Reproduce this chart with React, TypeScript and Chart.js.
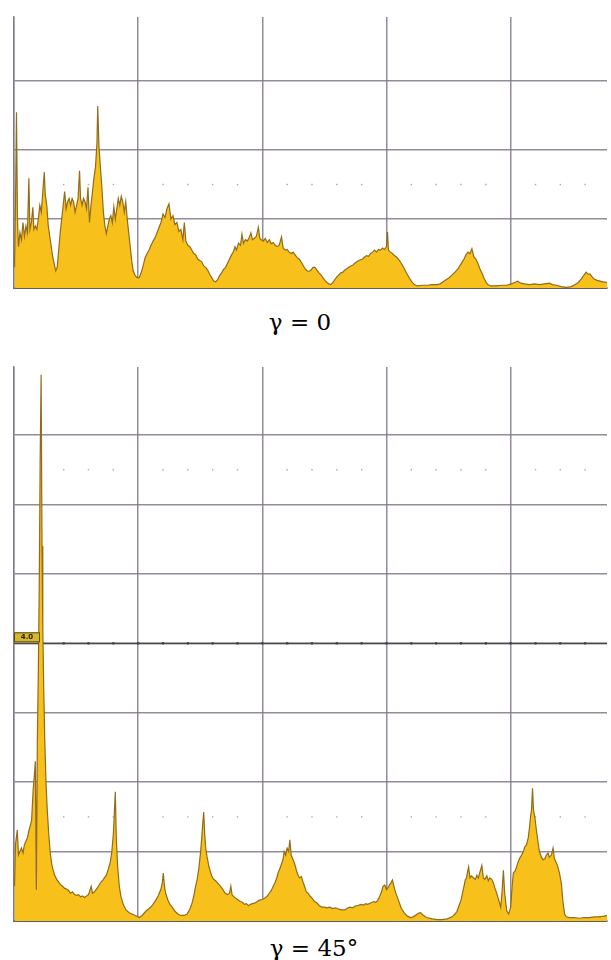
import React, { useEffect, useRef } from "react";
import { Chart, registerables } from "chart.js";

Chart.register(...registerables);

// ---------- data (x: frequency units, grid every 125; y: amplitude divisions) ----------
const TOP_X = [0.5,1.5,2.5,3.5,4.5,6,7.5,9,10.5,12,13.5,15,16,17.5,19,20,21.5,23,24.5,26,27.5,29,30.5,31.5,33,34.5,36,37.5,39,40.5,42,43.5,45,46.5,48,49.5,51,52.5,54,55.5,57,58.5,60,61.5,63,64.5,66,67,68.5,70,71.5,73,74.5,76,77.5,79,80.5,82,83.5,84.3,85.5,87,88.5,90,91.5,93,94.5,96,97.5,99,100.5,102,103.5,105,106.5,108,109.5,111,112.5,114,115.5,117,118.5,120,122,124,126,128,130,132,134,136,138,140,142,144,146,148,150,152,154,156,158,160,162,164,166,168,170,171.5,173,175,177,179,181,183,185,187,189,191,193,195,197,199,201,203,205,207,209,211,213,215,217,219,221,222.5,224,226,228,229.5,231,233,235,237,238.5,240,242,244,246,247.5,249,251,253,255,257,259,261,263,265,267,269.3,271,273,275,277,279,281,283,285,287,289,291,293,295,297,299,301,303,305,307,309,311,313,315,317,319,321,323,325,327,329,331,333,335,337,339,341,343,345,347,349,351,353,355,357,359,361,363,365,367,369,371,373,375,376,377,379,381,383,385,387,389,391,393,395,397,399,401,403,406,411,416,421,426,429,432,435,438,441,444,447,450,453,455,457,459,461,463,465,467,469,471,473,475,477,480,486,491,496,501,504,507,510,514,519,524,529,534,539,542,546,551,556,561,565,568,571,574,576,578,580,582,584,587,590,593,597];
const TOP_Y = [0.3,1.2,2.55,1.0,0.6,0.8,0.7,0.95,0.75,0.9,0.8,1.59,0.85,0.95,1.17,0.85,0.9,0.85,1.0,1.2,1.1,1.4,1.68,1.35,1.2,0.9,0.75,0.6,0.45,0.35,0.25,0.3,0.55,0.8,1.0,1.2,1.4,1.15,1.25,1.3,1.2,1.3,1.25,1.1,1.2,1.3,1.7,1.3,1.2,1.3,1.25,1.15,1.46,0.95,1.2,1.4,1.6,1.75,2.1,2.64,2.06,1.75,1.45,1.1,0.9,0.79,0.9,1.0,1.05,0.95,1.18,1.0,1.15,1.3,1.2,1.33,1.25,1.1,1.25,1.0,0.8,0.6,0.4,0.25,0.18,0.15,0.15,0.22,0.32,0.44,0.5,0.55,0.62,0.68,0.73,0.8,0.88,0.95,1.07,1.02,1.15,1.22,1.0,1.05,0.92,0.95,0.82,0.85,0.7,0.95,0.68,0.62,0.6,0.55,0.5,0.48,0.42,0.4,0.38,0.32,0.3,0.26,0.2,0.15,0.1,0.09,0.12,0.18,0.22,0.27,0.3,0.36,0.42,0.48,0.53,0.6,0.55,0.65,0.62,0.78,0.65,0.7,0.68,0.74,0.8,0.7,0.72,0.75,0.88,0.72,0.7,0.68,0.72,0.66,0.7,0.64,0.66,0.62,0.6,0.62,0.74,0.58,0.55,0.56,0.52,0.5,0.52,0.48,0.44,0.42,0.38,0.33,0.28,0.25,0.24,0.26,0.3,0.3,0.26,0.22,0.19,0.15,0.11,0.08,0.06,0.05,0.08,0.12,0.16,0.19,0.22,0.23,0.26,0.28,0.3,0.32,0.33,0.36,0.38,0.4,0.41,0.42,0.45,0.47,0.46,0.5,0.52,0.55,0.52,0.56,0.55,0.58,0.56,0.6,0.81,0.55,0.52,0.5,0.47,0.45,0.42,0.38,0.33,0.28,0.22,0.17,0.12,0.08,0.05,0.03,0.04,0.04,0.05,0.05,0.06,0.09,0.12,0.15,0.19,0.23,0.28,0.35,0.42,0.48,0.52,0.5,0.57,0.45,0.42,0.36,0.28,0.22,0.15,0.09,0.05,0.03,0.03,0.04,0.04,0.06,0.08,0.1,0.07,0.06,0.05,0.06,0.05,0.06,0.07,0.05,0.04,0.02,0.01,0.02,0.05,0.08,0.13,0.19,0.23,0.2,0.2,0.16,0.13,0.11,0.1,0.09,0.08];

const BOT_X = [0.5,1.5,3.3,4.5,6,7.5,9,10.5,12,13.5,15,16.5,17.7,19.3,20.5,21.5,22.5,23.5,24.5,25.5,26.3,27.3,28.2,29,30,31,32.2,33.5,35,36.5,38,39.5,41,43,45,47,49,51,53,55,57,59,61,63,65,67,69,71,73,75,77.7,79,81,83,85,87,89,91,93,95,97,98.5,100,101,102,103,104.3,106,107.7,110,112.7,116,119,122,126,129,132.7,136,139,142.7,145,147.7,149.3,150.3,151.5,152.7,155,157,159.3,162,165,167.7,171,174.3,177,179.3,181,182.5,184.3,186,187.7,189,190,191,192,193,194.3,196,197.5,199.3,201,203,206,208,210,212.7,215,217,218.3,219.5,222,224,226,228,230,232,234,236,238,240,242.7,245,247,250,252.7,255,257,259,261,262.7,264.5,266,267.5,269.3,271,272,273.5,275,276.5,277.7,279,280.5,282.7,284.5,286,287.5,289.3,291,292.5,294.3,296,298,300,302.7,305,307.5,310,312.7,315,318,321,324,327,330,332.7,335,338,341,344,346,349,352,354,356,359,362,364,366,368,370,371.5,373.3,375,376.5,378,379.5,381,382.5,384,386,388,390,392.7,396,399.3,402,405,407,409.3,411.5,414,416,421,426,431,436,441,444,446,448,450,451.5,453,454.3,455.5,456.5,457.7,459,460.5,462.7,464.5,466,467.5,469,471,472.5,474,476,477.5,479,481,482.5,484,486,488,490,491.5,492.7,494,496,498,500,501.5,502.7,504.5,506,507.5,509.3,511,512.7,514.3,516,517.7,519,520,521,522,523,524.3,526,527.7,529,531,532.7,534.5,536,537.7,539,541,542.7,544,546,547.5,549,551,552.5,554.3,556,559.3,564,569,574,579,584,589,594,597];
const BOT_Y = [0.5,1.1,1.31,0.95,1.0,1.05,0.98,1.1,1.15,1.2,1.3,1.38,1.45,1.89,2.1,2.3,0.45,2.6,3.6,5.0,6.6,7.87,5.4,4.2,3.3,2.6,2.0,1.6,1.25,0.98,0.82,0.73,0.66,0.6,0.56,0.52,0.5,0.47,0.46,0.44,0.4,0.42,0.38,0.37,0.38,0.35,0.36,0.34,0.36,0.38,0.5,0.4,0.42,0.46,0.5,0.55,0.58,0.62,0.66,0.75,0.85,1.0,1.25,1.55,1.86,1.2,0.8,0.5,0.35,0.24,0.16,0.12,0.1,0.08,0.05,0.08,0.14,0.18,0.22,0.3,0.36,0.45,0.55,0.69,0.5,0.4,0.3,0.24,0.2,0.14,0.1,0.08,0.08,0.1,0.17,0.26,0.36,0.48,0.59,0.75,0.97,1.2,1.4,1.57,1.25,1.05,0.93,0.8,0.72,0.64,0.6,0.58,0.53,0.5,0.46,0.4,0.38,0.4,0.5,0.38,0.34,0.32,0.3,0.28,0.27,0.24,0.25,0.22,0.24,0.25,0.26,0.28,0.3,0.31,0.33,0.36,0.4,0.44,0.5,0.55,0.62,0.7,0.75,0.82,0.9,1.0,0.95,1.05,1.0,1.17,0.95,0.9,0.82,0.72,0.66,0.62,0.64,0.56,0.5,0.42,0.4,0.36,0.33,0.28,0.26,0.22,0.2,0.2,0.19,0.2,0.18,0.19,0.17,0.16,0.16,0.18,0.2,0.19,0.22,0.22,0.24,0.23,0.25,0.24,0.26,0.28,0.27,0.29,0.35,0.42,0.5,0.52,0.45,0.48,0.52,0.55,0.59,0.5,0.42,0.34,0.26,0.18,0.12,0.07,0.05,0.06,0.09,0.11,0.12,0.09,0.06,0.05,0.03,0.02,0.02,0.03,0.06,0.1,0.14,0.22,0.3,0.4,0.5,0.59,0.62,0.7,0.78,0.62,0.65,0.62,0.6,0.66,0.62,0.7,0.8,0.62,0.6,0.65,0.58,0.62,0.6,0.55,0.48,0.4,0.3,0.2,0.45,0.73,0.4,0.15,0.1,0.2,0.5,0.69,0.72,0.78,0.85,0.91,0.95,1.0,1.07,1.1,1.2,1.35,1.5,1.6,1.91,1.6,1.5,1.3,1.12,1.0,0.92,0.88,0.9,0.95,0.98,0.92,0.95,1.05,0.9,0.84,0.78,0.7,0.55,0.3,0.1,0.06,0.05,0.05,0.04,0.05,0.05,0.06,0.06,0.07,0.08];

// faint dotted reference rows and the marker row
const DOT_X = [50,75,100,150,175,200,225,275,300,325,350,400,425,450,475,525,550,575];
const MARKER_DOT_X = [25,50,75,100,125,150,175,200,225,250,275,300,325,350,375,400,425,450,475,500,525,550,575];
const TOP_DOT_LEVELS = [1.5];
const BOT_DOT_LEVELS = [6.5, 1.5];
const MARKER_LEVEL = 4;
const MARKER_TEXT = "4.0";

const X_MAX = 597;
const X_STEP = 125;
const TOP_Y_MAX = 3.93;
const BOT_Y_MAX = 7.98;

const CAPTION_TOP = "γ = 0";
const CAPTION_BOT = "γ = 45°";

const FILL = "#F7C01A";
const EDGE = "rgba(140,102,22,0.95)";
const GRID = "rgba(128,120,134,0.85)";

function pts(xs: number[], ys: number[]) {
  return xs.map((x, i) => ({ x, y: ys[i] }));
}

function dotRows(levels: number[]) {
  const out: { x: number; y: number }[] = [];
  levels.forEach((lv) => DOT_X.forEach((x) => out.push({ x, y: lv })));
  return out;
}

function makeOptions(yMax: number, pad: any) {
  return {
    animation: false as const,
    responsive: false,
    maintainAspectRatio: false,
    layout: { padding: pad },
    plugins: { legend: { display: false }, tooltip: { enabled: false }, title: { display: false } },
    scales: {
      x: {
        type: "linear" as const,
        min: 0,
        max: X_MAX,
        ticks: { display: false, stepSize: X_STEP, includeBounds: false },
        grid: { color: GRID, lineWidth: 1.5, drawTicks: false },
        border: { display: true, color: "rgba(90,88,92,0.95)", width: 2 },
      },
      y: {
        type: "linear" as const,
        min: 0,
        max: yMax,
        ticks: { display: false, stepSize: 1, includeBounds: false },
        grid: { color: GRID, lineWidth: 1.5, drawTicks: false },
        border: { display: true, color: GRID, width: 1.5 },
      },
    },
  };
}

function spectrumDataset(xs: number[], ys: number[]) {
  return {
    type: "line" as const,
    data: pts(xs, ys),
    borderColor: EDGE,
    borderWidth: 1.2,
    backgroundColor: FILL,
    fill: "origin",
    pointRadius: 0,
    tension: 0,
  };
}

function dotsDataset(levels: number[]) {
  return {
    type: "scatter" as const,
    data: dotRows(levels),
    pointStyle: "rect",
    pointRadius: 1,
    backgroundColor: "rgba(150,150,150,0.8)",
    borderWidth: 0,
  };
}

const markerLabel = {
  id: "markerLabel",
  afterDatasetsDraw(chart: any) {
    const ctx = chart.ctx;
    const y = chart.scales.y.getPixelForValue(MARKER_LEVEL);
    const x = chart.chartArea.left;
    ctx.save();
    ctx.fillStyle = "#D8B62C";
    ctx.fillRect(x, y - 11, 26, 10);
    ctx.strokeStyle = "#5a4a10";
    ctx.lineWidth = 1;
    ctx.strokeRect(x + 0.5, y - 10.5, 25, 9);
    ctx.fillStyle = "#2a2410";
    ctx.font = "bold 7px 'DejaVu Sans'";
    ctx.textAlign = "center";
    ctx.textBaseline = "middle";
    ctx.fillText(MARKER_TEXT, x + 13, y - 6);
    ctx.restore();
  },
};

export default function App() {
  const topRef = useRef<HTMLCanvasElement>(null);
  const botRef = useRef<HTMLCanvasElement>(null);

  useEffect(() => {
    const top = new Chart(topRef.current as HTMLCanvasElement, {
      type: "line",
      data: {
        datasets: [spectrumDataset(TOP_X, TOP_Y), dotsDataset(TOP_DOT_LEVELS)] as any,
      },
      options: makeOptions(TOP_Y_MAX, { left: 14, top: 17, right: 0, bottom: 12 }) as any,
    });
    const bot = new Chart(botRef.current as HTMLCanvasElement, {
      type: "line",
      data: {
        datasets: [
          spectrumDataset(BOT_X, BOT_Y),
          {
            type: "line",
            data: [
              { x: 0, y: MARKER_LEVEL },
              { x: X_MAX, y: MARKER_LEVEL },
            ],
            borderColor: "rgba(70,70,72,0.95)",
            borderWidth: 1.5,
            pointRadius: 0,
            fill: false,
          },
          {
            type: "scatter",
            data: MARKER_DOT_X.map((x) => ({ x, y: MARKER_LEVEL })),
            pointStyle: "rect",
            pointRadius: 1.6,
            backgroundColor: "rgba(50,50,52,0.95)",
            borderWidth: 0,
          },
          dotsDataset(BOT_DOT_LEVELS),
        ] as any,
      },
      options: makeOptions(BOT_Y_MAX, { left: 14, top: 7, right: 0, bottom: 9 }) as any,
      plugins: [markerLabel],
    });
    return () => {
      top.destroy();
      bot.destroy();
    };
  }, []);

  const caption: React.CSSProperties = {
    position: "absolute",
    fontFamily: "'DejaVu Serif', serif",
    fontSize: 23,
    lineHeight: "26px",
    color: "#000",
    whiteSpace: "nowrap",
  };

  return (
    <div style={{ position: "fixed", left: 0, top: 0, width: 611, height: 960, background: "#fff", overflow: "hidden" }}>
      <canvas ref={topRef} width={611} height={300} style={{ position: "absolute", left: 0, top: 0, width: 611, height: 300 }} />
      <div style={{ ...caption, left: 200, width: 200, textAlign: "center", top: 309 }}>{CAPTION_TOP}</div>
      <canvas ref={botRef} width={611} height={570} style={{ position: "absolute", left: 0, top: 360, width: 611, height: 570 }} />
      <div style={{ ...caption, left: 214, width: 200, textAlign: "center", top: 935 }}>{CAPTION_BOT}</div>
    </div>
  );
}
